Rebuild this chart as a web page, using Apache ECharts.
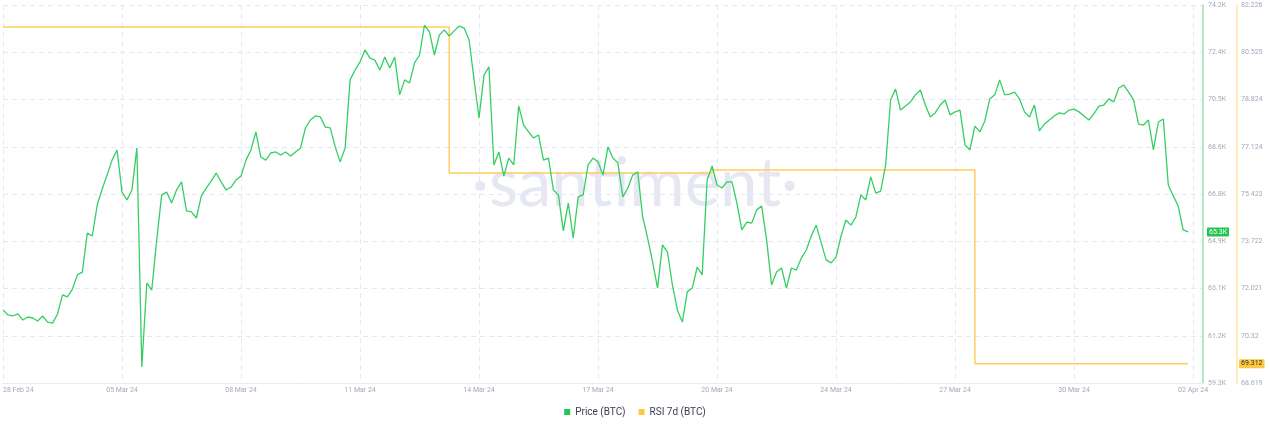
<!DOCTYPE html>
<html>
<head>
<meta charset="utf-8">
<script src="https://cdn.jsdelivr.net/npm/echarts@6/dist/echarts.min.js"></script>
<style>
html,body{margin:0;padding:0;background:#fff;}
#chart{width:1270px;height:430px;}
</style>
</head>
<body>
<div id="chart"></div>
<script>
// x-axis tick labels (one every 24 points)
const xTickLabels = ['28 Feb 24','05 Mar 24','08 Mar 24','11 Mar 24','14 Mar 24','17 Mar 24','20 Mar 24','24 Mar 24','27 Mar 24','30 Mar 24','02 Apr 24'];
const pointsPerTick = 24;
const categoryCount = 243;

// Price (BTC), in thousands USD
const priceValues = [
62.22,62.02,61.98,62.06,61.82,61.94,61.90,61.78,61.98,61.74,
61.70,62.06,62.81,62.73,63.04,63.60,63.71,65.25,65.13,66.35,
66.98,67.53,68.12,68.52,66.86,66.55,66.94,68.60,59.97,63.28,
63.00,64.97,66.75,66.86,66.43,66.94,67.26,66.12,66.08,65.84,
66.71,67.02,67.30,67.61,67.26,66.94,67.06,67.34,67.49,68.12,
68.52,69.23,68.24,68.12,68.40,68.44,68.32,68.44,68.28,68.44,
68.60,69.39,69.70,69.86,69.82,69.42,69.39,68.64,68.05,68.60,
71.28,71.67,71.99,72.46,72.14,72.06,71.67,72.18,71.75,72.18,
70.69,71.28,71.16,71.95,72.26,73.44,73.17,72.26,73.05,73.25,
73.01,73.21,73.40,73.32,72.85,71.28,69.78,71.47,71.79,67.93,
68.44,67.49,68.20,67.93,70.25,69.50,69.23,68.99,69.11,68.12,
68.20,66.94,66.75,65.33,66.43,65.05,66.67,66.75,67.93,68.20,
68.05,67.53,68.64,68.20,68.01,66.67,67.02,67.53,67.65,65.88,
65.05,64.11,63.08,64.78,64.50,63.20,62.22,61.74,62.93,63.08,
63.91,63.60,67.34,67.89,67.14,67.02,67.26,67.26,66.43,65.37,
65.68,65.64,66.16,66.31,64.97,63.20,63.71,63.87,63.08,63.87,
63.79,64.26,64.58,65.13,65.56,64.86,64.19,64.07,64.30,65.13,
65.76,65.56,65.88,66.75,66.55,67.46,66.82,66.90,67.93,70.49,
70.92,70.09,70.25,70.41,70.69,70.88,70.29,69.82,69.98,70.29,
70.49,69.90,70.02,70.09,68.72,68.52,69.46,69.23,69.66,70.53,
70.69,71.28,70.69,70.72,70.80,70.53,70.02,69.82,70.29,69.27,
69.54,69.70,69.86,69.98,69.94,70.09,70.13,70.02,69.86,69.70,
69.94,70.25,70.29,70.53,70.41,70.96,71.08,70.80,70.49,69.54,
69.50,69.70,68.52,69.62,69.74,67.14,66.71,66.31,65.37,65.29
];

// RSI 7d (BTC): [point index, value] where the value changes
const rsiIndex = [0, 90, 143, 196, 239];
const rsiValues = [81.43, 76.18, 76.29, 69.312, 69.312];

// y-axis tick labels
const priceTickLabels = ['59.3K','61.2K','63.1K','64.9K','66.8K','68.6K','70.5K','72.4K','74.2K'];
const rsiTickLabels = ['68.619','70.32','72.021','73.722','75.423','77.124','78.824','80.525','82.226'];
const priceMin = 59.34, priceMax = 74.23;
const rsiMin = 68.619, rsiMax = 82.226;

const categories = [];
for (let i = 0; i < categoryCount; i++) {
  categories.push(i % pointsPerTick === 0 && xTickLabels[i / pointsPerTick] ? xTickLabels[i / pointsPerTick] : 'p' + i);
}
const rsiData = rsiIndex.map((idx, k) => [idx, rsiValues[k]]);

const GREEN = '#34cf63';
const YELLOW = '#ffcd5c';
const LABEL = '#a3a8bc';
const GRID = '#e6e8f1';
const FONT = 'Roboto, "Noto Sans", sans-serif';

const priceStep = (priceMax - priceMin) / 8;
const rsiStep = (rsiMax - rsiMin) / 8;

const chart = echarts.init(document.getElementById('chart'), null, {renderer: 'canvas'});
chart.setOption({
  animation: false,
  backgroundColor: '#ffffff',
  textStyle: {fontFamily: FONT},
  grid: {left: 0, right: 67, top: 5, bottom: 47, containLabel: false},
  graphic: [{
    type: 'text',
    left: 'center',
    top: 151,
    z: 0,
    silent: true,
    style: {
      text: '\u00B7santiment\u00B7',
      fontFamily: 'Lato, "Open Sans", sans-serif',
      fontWeight: 'normal',
      fontSize: 67,
      fill: 'rgba(208,212,232,0.55)'
    }
  }],
  legend: {
    bottom: 8,
    left: 'center',
    itemWidth: 6,
    itemHeight: 6,
    itemGap: 13,
    icon: 'rect',
    textStyle: {fontSize: 10, color: '#3a3d4b', fontFamily: FONT},
    data: ['Price (BTC)', 'RSI 7d (BTC)']
  },
  xAxis: {
    type: 'category',
    data: categories,
    boundaryGap: false,
    axisLine: {show: true, lineStyle: {color: '#e8eaf0', width: 1}},
    axisTick: {show: false},
    axisLabel: {
      interval: pointsPerTick - 1,
      color: LABEL,
      fontSize: 7,
      margin: 4,
      alignMinLabel: 'left',
      formatter: v => v.charAt(0) === 'p' ? '' : v
    },
    splitLine: {show: true, interval: pointsPerTick - 1, lineStyle: {color: GRID, type: [5, 4], width: 1}}
  },
  yAxis: [{
    type: 'value',
    position: 'right',
    min: priceMin,
    max: priceMax,
    interval: priceStep,
    axisLine: {show: true, lineStyle: {color: '#9be3ad', width: 1.5}},
    axisTick: {show: false},
    splitLine: {show: true, lineStyle: {color: GRID, type: [5, 4], width: 1}},
    axisLabel: {
      color: LABEL, fontSize: 7, margin: 5,
      formatter: v => priceTickLabels[Math.round((v - priceMin) / priceStep)] || ''
    },
    axisPointer: {
      show: true, type: 'none', status: 'show', triggerTooltip: false,
      value: priceValues[priceValues.length - 1],
      label: {
        show: true, backgroundColor: '#26c451', color: '#ffffff', fontSize: 7,
        padding: [1, 2, 1, 2], margin: 4, borderRadius: 1,
        formatter: p => p.value.toFixed(1) + 'K'
      }
    }
  }, {
    type: 'value',
    position: 'right',
    offset: 34,
    min: rsiMin,
    max: rsiMax,
    interval: rsiStep,
    axisLine: {show: true, lineStyle: {color: '#ffe4a3', width: 1.5}},
    axisTick: {show: false},
    splitLine: {show: false},
    axisLabel: {
      color: LABEL, fontSize: 7, margin: 4,
      formatter: v => rsiTickLabels[Math.round((v - rsiMin) / rsiStep)] || ''
    },
    axisPointer: {
      show: true, type: 'none', status: 'show', triggerTooltip: false,
      value: rsiValues[rsiValues.length - 1],
      label: {
        show: true, backgroundColor: '#ffc93f', color: '#2c2c2c', fontSize: 7,
        padding: [1, 2, 1, 2], margin: 2, borderRadius: 1,
        formatter: p => p.value.toFixed(3)
      }
    }
  }],
  series: [{
    name: 'Price (BTC)',
    type: 'line',
    yAxisIndex: 0,
    data: priceValues,
    showSymbol: false,
    symbol: 'none',
    lineStyle: {color: GREEN, width: 1.3},
    itemStyle: {color: '#26c451'},
    z: 3
  }, {
    name: 'RSI 7d (BTC)',
    type: 'line',
    yAxisIndex: 1,
    data: rsiData,
    step: 'end',
    showSymbol: false,
    symbol: 'none',
    lineStyle: {color: YELLOW, width: 1.5},
    itemStyle: {color: '#ffc93f'},
    z: 2
  }]
});
</script>
</body>
</html>
